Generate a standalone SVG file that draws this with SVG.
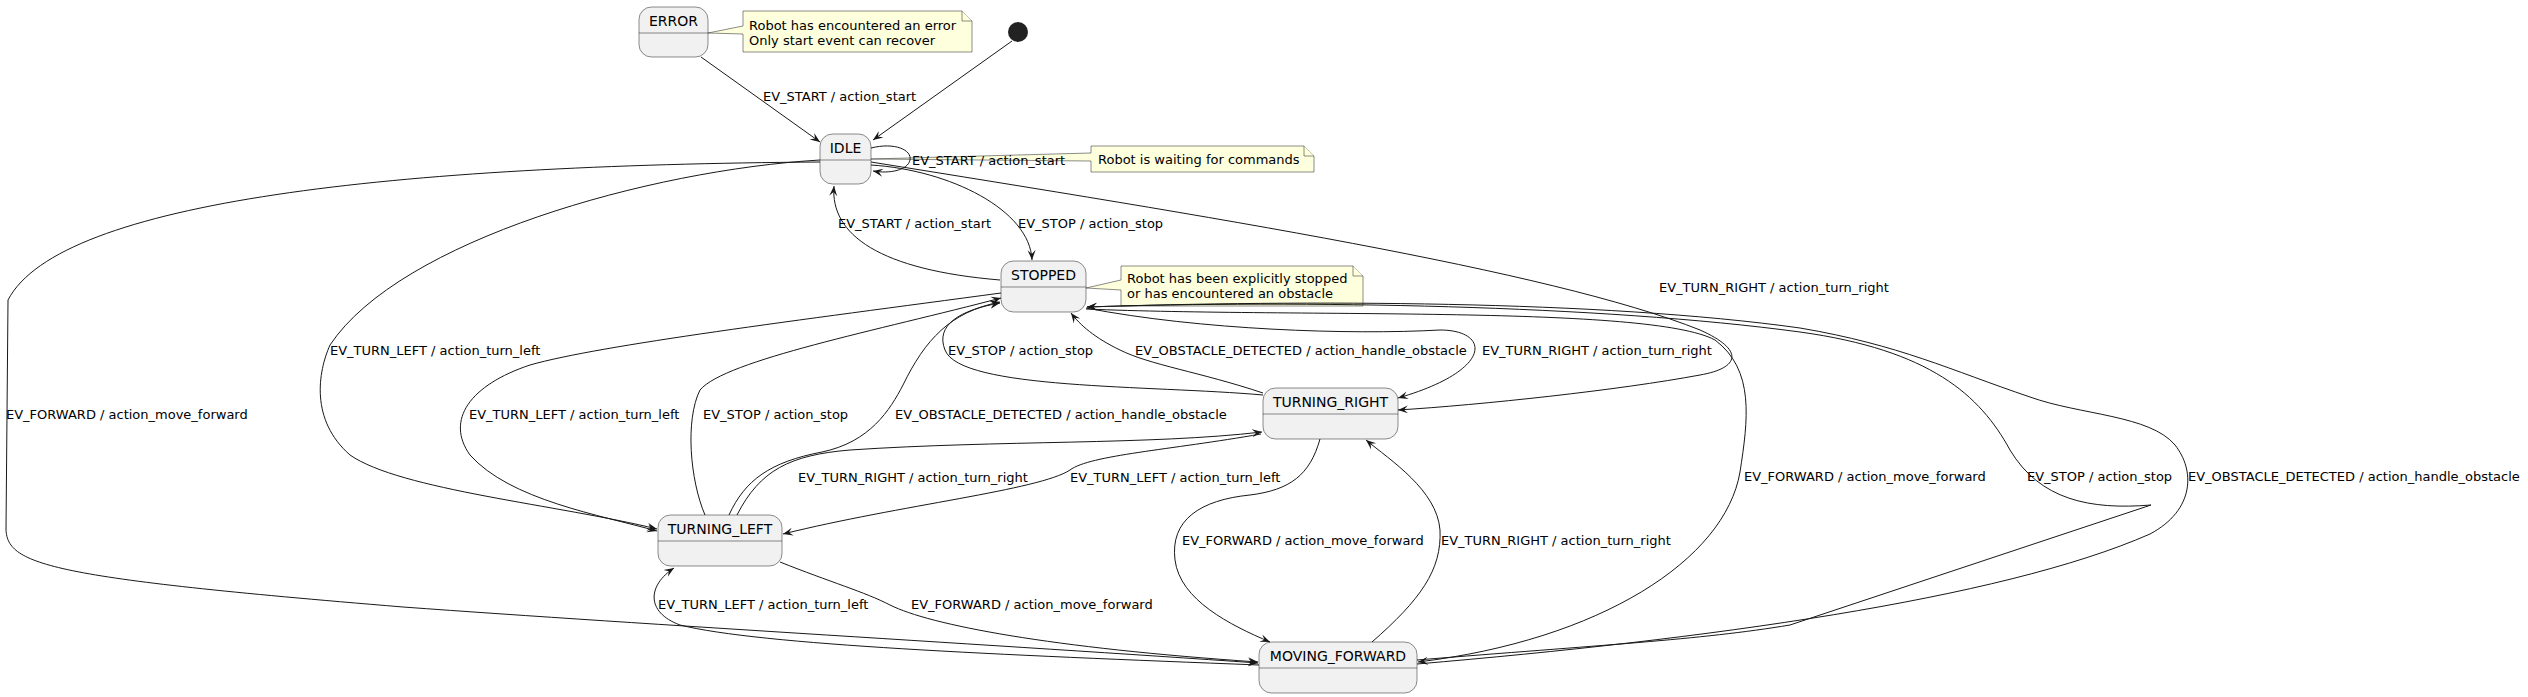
<svg xmlns="http://www.w3.org/2000/svg" width="2528" height="697" viewBox="0 0 2528 697">
<style>
.st{fill:#F1F1F1;stroke:#181818;stroke-width:0.5}
.sep{stroke:#181818;stroke-width:0.5}
.nt{fill:#FEFFDD;stroke:#181818;stroke-width:0.5}
.nm{font-family:"DejaVu Sans",sans-serif;font-size:14px;fill:#000;text-anchor:middle}
.tx{font-family:"DejaVu Sans",sans-serif;font-size:13px;fill:#000}
.c{fill:none;stroke:#181818;stroke-width:1;marker-end:url(#ah)}
</style>
<defs>
<marker id="ah" markerWidth="12" markerHeight="10" refX="10" refY="5" orient="auto" markerUnits="userSpaceOnUse">
<path d="M0,1 L10,5 L0,9 L4,5 Z" fill="#181818"/>
</marker>
</defs>
<rect width="2528" height="697" fill="#FFFFFF"/>

<g id="initial"><circle cx="1018" cy="32" r="10" fill="#222222"/></g>

<g id="ERROR">
<rect class="st" x="639" y="7" width="69" height="50" rx="12.5"/>
<line class="sep" x1="639" y1="33" x2="708" y2="33"/>
<text class="nm" x="673.5" y="25.5">ERROR</text>
</g>
<g id="note_error">
<path class="nt" d="M743,11 L743,26 L708,33 L743,34 L743,52 L972,52 L972,21 L962,11 Z"/>
<path class="nt" d="M962,11 L962,21 L972,21"/>
<text class="tx" x="749" y="29.5">Robot has encountered an error</text>
<text class="tx" x="749" y="44.5">Only start event can recover</text>
</g>

<g id="IDLE">
<rect class="st" x="820" y="134" width="51" height="50" rx="12.5"/>
<line class="sep" x1="820" y1="160" x2="871" y2="160"/>
<text class="nm" x="845.5" y="152.5">IDLE</text>
</g>
<g id="note_idle">
<path class="nt" d="M1091,146 L1091,153 L871,159 L1091,161 L1091,172 L1314,172 L1314,156 L1304,146 Z"/>
<path class="nt" d="M1304,146 L1304,156 L1314,156"/>
<text class="tx" x="1098" y="163.5">Robot is waiting for commands</text>
</g>

<g id="STOPPED">
<rect class="st" x="1001" y="261" width="85" height="51" rx="12.5"/>
<line class="sep" x1="1001" y1="287" x2="1086" y2="287"/>
<text class="nm" x="1043.5" y="279.5">STOPPED</text>
</g>
<g id="note_stopped">
<path class="nt" d="M1121,266 L1121,280 L1086,288 L1121,290 L1121,306 L1363,306 L1363,276 L1353,266 Z"/>
<path class="nt" d="M1353,266 L1353,276 L1363,276"/>
<text class="tx" x="1127" y="282.5">Robot has been explicitly stopped</text>
<text class="tx" x="1127" y="297.5">or has encountered an obstacle</text>
</g>

<g id="TURNING_LEFT">
<rect class="st" x="658" y="515" width="124" height="51" rx="12.5"/>
<line class="sep" x1="658" y1="541" x2="782" y2="541"/>
<text class="nm" x="720" y="533.5">TURNING_LEFT</text>
</g>

<g id="TURNING_RIGHT">
<rect class="st" x="1263" y="388" width="135" height="51" rx="12.5"/>
<line class="sep" x1="1263" y1="414" x2="1398" y2="414"/>
<text class="nm" x="1330.5" y="406.5">TURNING_RIGHT</text>
</g>

<g id="MOVING_FORWARD">
<rect class="st" x="1259" y="642" width="158" height="51" rx="12.5"/>
<line class="sep" x1="1259" y1="668" x2="1417" y2="668"/>
<text class="nm" x="1338" y="660.5">MOVING_FORWARD</text>
</g>

<g id="connectors">
<path class="c" d="M1012,41 L873,140"/>
<path class="c" d="M701,57 L820,142"/>
<path class="c" d="M871,148 C895,142 912,150 910,160 C908,170 890,174 873,171"/>
<path class="c" d="M871,165 C950,170 1030,210 1032,260"/>
<path class="c" d="M1000,280 C880,270 830,235 834,186"/>
<path class="c" d="M820,160 C650,170 400,240 330,345 C318,372 310,420 350,455 C400,490 560,505 657,529"/>
<path class="c" d="M820,162 C400,165 60,200 8,300 L6,530 C8,565 50,578 403,607 C650,625 1000,645 1258,663"/>
<path class="c" d="M871,162 C1200,215 1550,270 1700,330 C1745,350 1740,368 1700,375 C1620,390 1480,405 1398,410"/>
<path class="c" d="M1001,293 C800,320 600,345 530,365 C470,385 445,420 470,455 C510,500 600,515 657,531"/>
<path class="c" d="M705,515 C690,480 685,420 700,390 C725,360 880,330 1001,298"/>
<path class="c" d="M729,515 C745,480 770,462 822,452 C870,442 890,410 903,385 C925,340 950,312 1000,302"/>
<path class="c" d="M1263,395 C1150,385 960,390 945,350 C935,325 960,310 1000,303"/>
<path class="c" d="M1263,393 C1200,372 1150,365 1120,350 C1095,338 1080,325 1071,313"/>
<path class="c" d="M1086,308 C1200,330 1350,335 1440,330 C1490,330 1495,370 1398,398"/>
<path class="c" d="M1086,309 C1300,318 1650,305 1715,340 C1755,370 1748,420 1740,472 C1725,560 1600,640 1418,662"/>
<path class="c" d="M1417,660 C1600,645 1700,640 1790,625 L2151,505 C2090,510 2040,500 2010,450 C1980,395 1930,350 1800,332 C1600,305 1300,300 1087,307"/>
<path class="c" d="M1417,664 C1700,640 2000,600 2150,534 C2195,510 2195,470 2175,445 C2150,415 2080,415 2030,397 C1950,370 1900,345 1800,328 C1600,300 1300,300 1087,307"/>
<path class="c" d="M737,515 C760,470 790,455 850,450 C1000,440 1150,445 1262,432"/>
<path class="c" d="M1261,434 C1170,450 1090,455 1070,470 C1040,490 900,505 783,534"/>
<path class="c" d="M1320,439 C1310,475 1290,490 1250,495 C1200,500 1170,520 1175,560 C1180,600 1230,625 1270,642"/>
<path class="c" d="M1372,642 C1420,600 1442,570 1440,530 C1437,490 1390,460 1366,440"/>
<path class="c" d="M780,562 C830,582 865,592 890,605 C930,625 1050,648 1258,662"/>
<path class="c" d="M1259,665 C1000,655 760,645 680,625 C645,612 648,585 674,568"/>

<text class="tx" x="763" y="100.5">EV_START / action_start</text>
<text class="tx" x="912" y="164.5">EV_START / action_start</text>
<text class="tx" x="838" y="227.5">EV_START / action_start</text>
<text class="tx" x="1018" y="227.5">EV_STOP / action_stop</text>
<text class="tx" x="1659" y="291.5">EV_TURN_RIGHT / action_turn_right</text>
<text class="tx" x="330" y="354.5">EV_TURN_LEFT / action_turn_left</text>
<text class="tx" x="6" y="418.5">EV_FORWARD / action_move_forward</text>
<text class="tx" x="469" y="418.5">EV_TURN_LEFT / action_turn_left</text>
<text class="tx" x="703" y="418.5">EV_STOP / action_stop</text>
<text class="tx" x="895" y="418.5">EV_OBSTACLE_DETECTED / action_handle_obstacle</text>
<text class="tx" x="948" y="354.5">EV_STOP / action_stop</text>
<text class="tx" x="1135" y="354.5">EV_OBSTACLE_DETECTED / action_handle_obstacle</text>
<text class="tx" x="1482" y="354.5">EV_TURN_RIGHT / action_turn_right</text>
<text class="tx" x="798" y="481.5">EV_TURN_RIGHT / action_turn_right</text>
<text class="tx" x="1070" y="481.5">EV_TURN_LEFT / action_turn_left</text>
<text class="tx" x="1182" y="544.5">EV_FORWARD / action_move_forward</text>
<text class="tx" x="1441" y="544.5">EV_TURN_RIGHT / action_turn_right</text>
<text class="tx" x="1744" y="480.5">EV_FORWARD / action_move_forward</text>
<text class="tx" x="2027" y="480.5">EV_STOP / action_stop</text>
<text class="tx" x="2188" y="480.5">EV_OBSTACLE_DETECTED / action_handle_obstacle</text>
<text class="tx" x="658" y="608.5">EV_TURN_LEFT / action_turn_left</text>
<text class="tx" x="911" y="608.5">EV_FORWARD / action_move_forward</text>
</g>
</svg>
